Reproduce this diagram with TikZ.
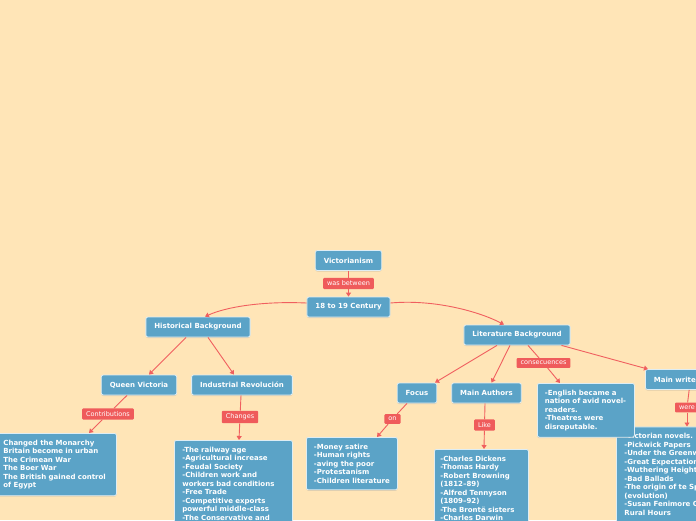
\documentclass[tikz,border=0pt]{standalone}
\usepackage{fontspec}
\newfontfamily\dejavu{DejaVu Sans}
\usetikzlibrary{arrows.meta,calc,shadows}
\definecolor{bg}{HTML}{FFE5B7}
\definecolor{nodeblue}{HTML}{5BA3C7}
\definecolor{labred}{HTML}{EF5B5B}
\definecolor{linered}{HTML}{F05F5F}
\tikzset{
  topic/.style={draw=white!80!nodeblue, line width=0.8pt, fill=nodeblue, rounded corners=2pt,
    text=white, font=\dejavu\bfseries\fontsize{7}{8.5}\selectfont, inner xsep=8.5pt,
    minimum height=20pt, drop shadow={shadow xshift=0pt, shadow yshift=-1pt, opacity=0.25}},
  listbox/.style={topic, align=left, anchor=north west, inner ysep=6.5pt, inner xsep=8pt, minimum height=0pt},
  lab/.style={fill=labred, text=white, rounded corners=1pt, font=\dejavu\fontsize{6.5}{7}\selectfont,
    inner xsep=4pt, inner ysep=3pt},
  conn/.style={draw=linered, line width=0.9pt},
  arr/.style={conn, -{Triangle[width=5pt,length=4pt]}},
}
\begin{document}
\begin{tikzpicture}[x=1pt,y=-1pt]
\fill[bg] (0,0) rectangle (696,520);
\useasboundingbox (0,0) rectangle (696,520);
\clip (0,0) rectangle (696,520);

% main nodes
\node[topic] (vic) at (348.5,260.5) {Victorianism};
\node[topic] (cen) at (348.5,307) {18 to 19 Century};
\node[topic] (hist) at (198,327) {Historical Background};
\node[topic] (lit) at (517,335) {Literature Background};
\node[topic] (qv) at (139,385) {Queen Victoria};
\node[topic] (ir) at (242,385) {Industrial Revolución};
\node[topic] (focus) at (417,393) {Focus};
\node[topic] (authors) at (486.5,393) {Main Authors};
\node[topic,anchor=west] (writers) at (645,379.5) {Main writers};

% list boxes
\node[listbox, text width=105pt] (changed) at (-5,433) {Changed the Monarchy\\Britain become in urban\\The Crimean War\\The Boer War\\The British gained control\\of Egypt};
\node[listbox, text width=102pt] (indus) at (174,440) {-The railway age\\-Agricultural increase\\-Feudal Society\\-Children work and\\workers bad conditions\\-Free Trade\\-Competitive exports\\powerful middle-class\\-The Conservative and\par\vspace{12pt}};
\node[listbox, text width=76pt, inner xsep=7.5pt] (focuslist) at (306,437) {-Money satire\\-Human rights\\-aving the poor\\-Protestanism\\-Children literature};
\node[listbox, text width=82pt, inner xsep=6pt] (authorsbox) at (434,449) {-Charles Dickens\\-Thomas Hardy\\-Robert Browning\\(1812–89)\\-Alfred Tennyson\\(1809–92)\\-The Brontë sisters\\-Charles Darwin\par\vspace{10pt}};
\node[listbox, text width=110pt] (writersbox) at (616,426.5) {-Victorian novels.\\-Pickwick Papers\\-Under the Greenwood Tree\\-Great Expectations\\-Wuthering Heights\\-Bad Ballads\\-The origin of te Species\\(evolution)\\-Susan Fenimore Cooper\\Rural Hours\par\vspace{10pt}};
\node[listbox, text width=82pt, inner xsep=7.5pt] (english) at (537,383) {-English became a\\nation of avid novel-\\readers.\\-Theatres were\\disreputable.};

% labels
\node[lab] (l1) at (348.5,283.5) {was between};
\node[lab] (l2) at (108,414) {Contributions};
\node[lab] (l3) at (240,417) {Changes};
\node[lab] (l4) at (392.5,419) {on};
\node[lab] (l5) at (484.5,425) {Like};
\node[lab] (l6) at (543.5,363) {consecuences};
\node[lab] (l7) at (687,407.5) {were};

% connectors
\draw[conn] (vic) -- (l1);
\draw[arr] (l1) -- (cen);
\draw[arr] ($(cen.west)+(0,-4)$) .. controls (262,301) and (226,307) .. ($(hist.north)+(7,0)$);
\draw[arr] ($(cen.east)+(0,-4)$) .. controls (435,299) and (480,312) .. ($(lit.north)+(-13,0)$);
\draw[arr] ($(hist.south)+(-12,0)$) -- ($(qv.north)+(10,0)$);
\draw[arr] ($(hist.south)+(10,0)$) -- ($(ir.north)+(-8,0)$);
\draw[conn] ($(qv.south)+(-12,0)$) -- (l2);
\draw[arr] (l2) -- ($(changed.north west)+(94,0)$);
\draw[conn] ($(ir.south)+(-1,0)$) -- (l3);
\draw[arr] (l3) -- ($(indus.north west)+(65,0)$);
\draw[arr] ($(lit.south)+(-20,0)$) -- ($(focus.north)+(18,0)$);
\draw[arr] ($(lit.south)+(-7,0)$) -- ($(authors.north)+(5,0)$);
\draw[conn] ($(lit.south)+(11,0)$) -- (l6);
\draw[arr] (l6) -- ($(english.north west)+(23,0)$);
\draw[arr] ($(lit.south east)+(-9,0)$) -- ($(writers.north west)+(3,0)$);
\draw[conn] ($(focus.south)+(-10,0)$) -- (l4);
\draw[arr] (l4) -- ($(focuslist.north west)+(71,0)$);
\draw[conn] ($(authors.south)+(-1.5,0)$) -- (l5);
\draw[arr] (l5) -- ($(authorsbox.north west)+(50,0)$);
\draw[conn] ($(writers.south)+(10.5,0)$) -- (l7);
\draw[arr] (l7) -- ($(writersbox.north west)+(71,0)$);
\end{tikzpicture}
\end{document}
